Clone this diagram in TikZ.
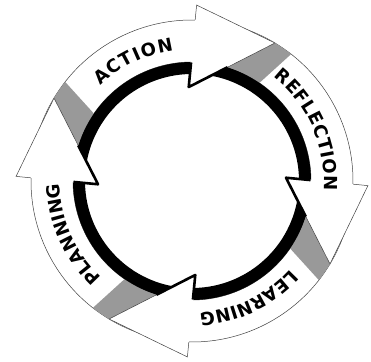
\documentclass[tikz,border=0pt]{standalone}
\usepackage{fontspec}
\newfontfamily\cyclefont{DejaVu Sans}
\usetikzlibrary{calc,decorations.text}
\newcommand{\cyclelabel}{\cyclefont\bfseries\fontsize{18}{18}\selectfont}

\begin{document}
\begin{tikzpicture}[x=1pt,y=1pt,
  band/.style={fill=white,draw=black!75,line width=0.5pt},
  shade/.style={fill=black!40},
  ring/.style={fill=black},
  head/.style={fill=white},
  rim/.style={draw=black!75,line width=0.5pt},
  notch/.style={draw=black,line width=2.6pt,line join=round},
  cycletext/.style={decorate,decoration={text along path,
    text align={fit to path},text={|\cyclelabel|#1}}}]
  \useasboundingbox (-192,-180) rectangle (179,181);
  % bands
  \draw[band] (170:119) arc[start angle=170,end angle=88,radius=119] -- (88:161) arc[start angle=88,end angle=170,radius=161] -- cycle;
  \draw[band] (80:119) arc[start angle=80,end angle=-2,radius=119] -- (-2:161) arc[start angle=-2,end angle=80,radius=161] -- cycle;
  \draw[band] (-10:119) arc[start angle=-10,end angle=-92,radius=119] -- (-92:161) arc[start angle=-92,end angle=-10,radius=161] -- cycle;
  \draw[band] (260:119) arc[start angle=260,end angle=178,radius=119] -- (178:161) arc[start angle=178,end angle=260,radius=161] -- cycle;
  % shaded tails
  \fill[shade] (170:119) -- (170:161) arc[start angle=170,end angle=142,radius=161] -- (145.5:119) arc[start angle=145.5,end angle=170,radius=119] -- cycle;
  \fill[shade] (80:119) -- (80:161) arc[start angle=80,end angle=52,radius=161] -- (55.5:119) arc[start angle=55.5,end angle=80,radius=119] -- cycle;
  \fill[shade] (-10:119) -- (-10:161) arc[start angle=-10,end angle=-38,radius=161] -- (-34.5:119) arc[start angle=-34.5,end angle=-10,radius=119] -- cycle;
  \fill[shade] (260:119) -- (260:161) arc[start angle=260,end angle=232,radius=161] -- (235.5:119) arc[start angle=235.5,end angle=260,radius=119] -- cycle;
  % black inner ring
  \fill[ring] (170:107) arc[start angle=170,end angle=91,radius=107] -- (91:119) arc[start angle=91,end angle=170,radius=119] -- cycle;
  \fill[ring] (80:107) arc[start angle=80,end angle=1,radius=107] -- (1:119) arc[start angle=1,end angle=80,radius=119] -- cycle;
  \fill[ring] (-10:107) arc[start angle=-10,end angle=-89,radius=107] -- (-89:119) arc[start angle=-89,end angle=-10,radius=119] -- cycle;
  \fill[ring] (260:107) arc[start angle=260,end angle=181,radius=107] -- (181:119) arc[start angle=181,end angle=260,radius=119] -- cycle;
  % arrow heads
  \coordinate (actO) at (88.5:176);
  \coordinate (actT) at (59:161);
  \coordinate (actB) at (92:94);
  \fill[head] (actO) -- (actT) -- (actB) -- cycle;
  \draw[rim] ($(actO)!0.18!(actB)$) -- (actO) -- (actT) -- (actB);
  \draw[notch] ($(actO)!0.70!(actB)$) -- (actB) -- ($(actB)!0.45!(actT)$);
  \coordinate (refO) at (-1.5:176);
  \coordinate (refT) at (-31:161);
  \coordinate (refB) at (2:94);
  \fill[head] (refO) -- (refT) -- (refB) -- cycle;
  \draw[rim] ($(refO)!0.18!(refB)$) -- (refO) -- (refT) -- (refB);
  \draw[notch] ($(refO)!0.70!(refB)$) -- (refB) -- ($(refB)!0.45!(refT)$);
  \coordinate (leaO) at (-91.5:176);
  \coordinate (leaT) at (-121:161);
  \coordinate (leaB) at (-88:94);
  \fill[head] (leaO) -- (leaT) -- (leaB) -- cycle;
  \draw[rim] ($(leaO)!0.18!(leaB)$) -- (leaO) -- (leaT) -- (leaB);
  \draw[notch] ($(leaO)!0.70!(leaB)$) -- (leaB) -- ($(leaB)!0.45!(leaT)$);
  \coordinate (plaO) at (178.5:176);
  \coordinate (plaT) at (149:161);
  \coordinate (plaB) at (182:94);
  \fill[head] (plaO) -- (plaT) -- (plaB) -- cycle;
  \draw[rim] ($(plaO)!0.18!(plaB)$) -- (plaO) -- (plaT) -- (plaB);
  \draw[notch] ($(plaO)!0.70!(plaB)$) -- (plaB) -- ($(plaB)!0.45!(plaT)$);
  % labels
  \path[cycletext=ACTION] (134:132) arc[start angle=134,end angle=98,radius=132];
  \path[cycletext=REFLECTION] (52:132) arc[start angle=52,end angle=-4,radius=132];
  \path[cycletext=LEARNING] (-42:132) arc[start angle=-42,end angle=-86,radius=132];
  \path[cycletext=PLANNING] (227:132) arc[start angle=227,end angle=181,radius=132];
\end{tikzpicture}
\end{document}
